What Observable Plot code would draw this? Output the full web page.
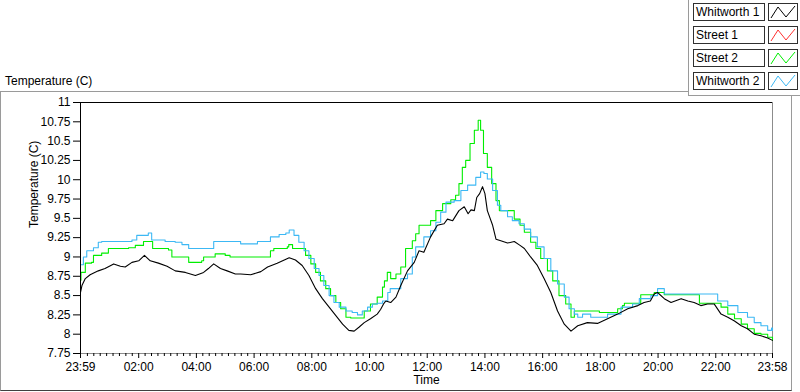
<!DOCTYPE html>
<html>
<head>
<meta charset="utf-8">
<script src="https://cdn.jsdelivr.net/npm/d3@7"></script>
<script src="https://cdn.jsdelivr.net/npm/@observablehq/plot@0.6"></script>
<style>
  html, body { margin: 0; padding: 0; background: #fff; }
  body { width: 800px; height: 392px; overflow: hidden; font-family: "Liberation Sans", Arial, sans-serif; }
  #wrap { position: relative; width: 800px; height: 392px; }
  #wrap svg { position: absolute; left: 0; top: 0; }
  .frame { position: absolute; left: 0; top: 91px; width: 790px; height: 298px;
           border-left: 1px solid #9a9a9a; border-top: 1px solid #9a9a9a;
           border-right: 1px solid #9a9a9a; border-bottom: 1px solid #404040; }
  .title { position: absolute; left: 5px; top: 74px; font-size: 12px; color: #000; }
  .legend { position: absolute; left: 688px; top: 0; width: 112px; height: 95px; background: #fff;
            border-left: 1px solid #9a9a9a; border-bottom: 1px solid #9a9a9a; }
  .lbl { position: absolute; left: 4px; width: 68px; height: 16px; border: 1px solid #303030;
         font-size: 12px; line-height: 16px; padding-left: 2px; color: #000; background: #fff; }
  .sw { position: absolute; left: 79px; width: 28px; height: 16px; border: 1px solid #303030; background: #fff; }
</style>
</head>
<body>
<div id="wrap">
  <div class="frame"></div>
  <div class="title">Temperature (C)</div>
</div>
<script>
// ---- data (clock time, °C) ----
const seriesNames = ["Whitworth 1", "Street 1", "Street 2", "Whitworth 2"];
const seriesColors = ["#000000", "#ff3030", "#00ee00", "#3cb8f4"];

const whitworth1 = [
  ["23:59",8.54],["00:02",8.63],["00:09",8.72],["00:19",8.77],["00:36",8.82],["00:50",8.85],
  ["01:08",8.91],["01:22",8.88],["01:32",8.87],["01:46",8.93],["02:00",8.95],["02:12",9.02],
  ["02:24",8.95],["02:41",8.92],["02:59",8.88],["03:16",8.82],["03:37",8.80],["03:58",8.76],
  ["04:15",8.80],["04:25",8.85],["04:36",8.91],["04:50",8.85],["05:04",8.82],["05:21",8.78],
  ["05:32",8.78],["05:53",8.77],["06:14",8.81],["06:28",8.87],["06:48",8.92],["07:13",8.99],
  ["07:26",8.96],["07:40",8.89],["07:54",8.76],["08:08",8.59],["08:22",8.46],["08:36",8.35],
  ["08:50",8.24],["09:04",8.13],["09:17",8.05],["09:28",8.04],["09:38",8.09],["09:49",8.15],
  ["10:02",8.20],["10:16",8.26],["10:23",8.32],["10:30",8.40],["10:34",8.43],["10:44",8.41],
  ["10:55",8.48],["11:05",8.63],["11:19",8.82],["11:33",8.93],["11:43",9.08],["11:53",9.06],
  ["12:07",9.26],["12:21",9.41],["12:35",9.43],["12:42",9.49],["12:53",9.47],["13:06",9.60],
  ["13:17",9.65],["13:25",9.56],["13:31",9.61],["13:38",9.60],["13:43",9.77],["13:49",9.82],
  ["13:55",9.91],["14:00",9.82],["14:05",9.60],["14:16",9.41],["14:23",9.23],["14:33",9.21],
  ["14:47",9.18],["15:01",9.20],["15:13",9.15],["15:22",9.11],["15:35",9.00],["15:49",8.89],
  ["16:03",8.72],["16:17",8.54],["16:31",8.30],["16:45",8.13],["16:59",8.04],["17:13",8.11],
  ["17:33",8.15],["17:54",8.14],["18:15",8.20],["18:36",8.26],["18:57",8.33],["19:18",8.37],
  ["19:31",8.41],["19:44",8.43],["19:52",8.52],["19:59",8.54],["20:13",8.46],["20:27",8.41],
  ["20:48",8.46],["21:02",8.43],["21:15",8.41],["21:29",8.37],["21:43",8.39],["21:57",8.39],
  ["22:11",8.26],["22:25",8.22],["22:39",8.17],["22:53",8.11],["23:06",8.07],["23:20",8.00],
  ["23:34",7.98],["23:48",7.95],["23:58",7.92]
];

const street1 = [];

const street2 = [
  ["23:59",8.70],["00:00",8.80],["00:09",8.92],["00:22",8.93],["00:26",9.02],["00:43",9.05],
  ["00:57",9.11],["01:39",9.12],["01:53",9.15],["02:10",9.20],["02:29",9.11],["03:02",9.09],
  ["03:09",9.00],["03:44",8.93],["04:11",8.95],["04:15",9.00],["04:39",9.04],["05:00",9.02],
  ["05:10",9.00],["06:34",9.08],["06:41",9.11],["07:09",9.13],["07:12",9.16],["07:20",9.11],
  ["07:47",9.02],["07:58",8.91],["08:08",8.80],["08:18",8.69],["08:29",8.59],["08:39",8.50],
  ["08:50",8.41],["09:00",8.33],["09:11",8.22],["09:21",8.21],["09:49",8.30],["10:02",8.39],
  ["10:16",8.48],["10:27",8.61],["10:31",8.69],["10:37",8.80],["10:44",8.72],["10:55",8.78],
  ["11:05",8.87],["11:15",9.11],["11:29",9.21],["11:36",9.30],["11:43",9.41],["12:07",9.47],
  ["12:18",9.60],["12:32",9.69],["12:49",9.74],["12:59",9.80],["13:06",9.95],["13:13",10.16],
  ["13:20",10.25],["13:29",10.47],["13:38",10.64],["13:46",10.77],["13:51",10.64],["13:57",10.34],
  ["14:05",10.16],["14:14",9.95],["14:23",9.73],["14:30",9.60],["15:01",9.49],["15:13",9.41],
  ["15:22",9.32],["15:35",9.19],["15:46",9.11],["15:56",8.98],["16:10",8.82],["16:21",8.69],
  ["16:34",8.50],["16:48",8.39],["16:59",8.22],["17:06",8.30],["17:58",8.28],["18:36",8.33],
  ["18:46",8.37],["18:50",8.40],["19:24",8.51],["19:52",8.54],["20:13",8.51],["21:26",8.40],
  ["22:11",8.35],["22:25",8.26],["22:39",8.20],["22:53",8.13],["23:06",8.07],["23:20",8.01],
  ["23:34",8.00],["23:48",7.96],["23:58",7.92]
];

const whitworth2 = [
  ["23:59",8.90],["00:05",9.00],["00:12",9.08],["00:26",9.12],["00:36",9.19],["00:43",9.20],
  ["01:46",9.22],["01:56",9.28],["02:20",9.31],["02:27",9.22],["02:55",9.20],["03:16",9.19],
  ["03:30",9.16],["03:44",9.11],["04:36",9.20],["05:32",9.17],["06:07",9.20],["06:34",9.26],
  ["06:52",9.29],["07:06",9.31],["07:13",9.35],["07:23",9.28],["07:33",9.19],["07:44",9.08],
  ["07:54",8.98],["08:05",8.85],["08:15",8.76],["08:25",8.63],["08:36",8.50],["08:46",8.41],
  ["08:57",8.35],["09:11",8.30],["09:24",8.28],["09:35",8.25],["09:45",8.30],["09:56",8.35],
  ["10:06",8.39],["10:16",8.40],["10:27",8.43],["10:38",8.54],["10:43",8.59],["11:05",8.72],
  ["11:19",8.78],["11:29",9.00],["11:36",9.13],["11:53",9.26],["12:07",9.34],["12:18",9.45],
  ["12:28",9.58],["12:39",9.71],["12:56",9.73],["13:10",9.86],["13:24",9.93],["13:41",10.03],
  ["13:51",10.10],["13:58",10.08],["14:05",10.01],["14:16",9.86],["14:26",9.67],["14:33",9.60],
  ["14:47",9.52],["14:57",9.47],["15:11",9.43],["15:22",9.36],["15:35",9.26],["15:49",9.13],
  ["16:03",8.98],["16:17",8.82],["16:31",8.65],["16:45",8.48],["16:55",8.33],["17:06",8.26],
  ["17:13",8.22],["17:23",8.26],["17:40",8.22],["18:15",8.26],["18:43",8.35],["19:07",8.39],
  ["19:21",8.46],["19:45",8.50],["19:59",8.59],["20:13",8.52],["22:04",8.43],["22:25",8.37],
  ["22:46",8.28],["23:06",8.22],["23:20",8.15],["23:34",8.11],["23:48",8.05],["23:56",8.08],
  ["23:58",8.05]
];

const xTickLabels = ["23:59","02:00","04:00","06:00","08:00","10:00","12:00","14:00","16:00","18:00","20:00","22:00","23:58"];
const yTicks = [7.75,8,8.25,8.5,8.75,9,9.25,9.5,9.75,10,10.25,10.5,10.75,11];
const yLabel = "Temperature (C)";
const xLabel = "Time";

// ---- build ----
// the first "23:59" belongs to the previous day
function parseTime(s, i) {
  const [h, m] = s.split(":").map(Number);
  const day = (i === 0 && s === "23:59") ? 1 : 2;
  return new Date(Date.UTC(2000, 0, day, h, m));
}
const toRows = arr => arr.map(([t, v], i) => ({t: parseTime(t, i), v}));
const rows = [whitworth1, street1, street2, whitworth2].map(toRows);

const majorDates = xTickLabels.map(parseTime);
const start = majorDates[0], end = majorDates[majorDates.length - 1];
const stepMs = 120 / 9 * 60000;
const minorDates = [];
for (let k = -20; k < 120; k++) {
  const d = new Date(+majorDates[1] + k * stepMs);
  if (d < start || d > end) continue;
  if (majorDates.some(m => Math.abs(m - d) < 90000)) continue;
  minorDates.push(d);
}

const lineStyle = (color, curve) => ({x: "t", y: "v", stroke: color, strokeWidth: 1.1, curve});

const chart = Plot.plot({
  width: 800,
  height: 392,
  marginLeft: 80,
  marginRight: 28,
  marginTop: 102,
  marginBottom: 39,
  style: {fontFamily: "'Liberation Sans', Arial, sans-serif", fontSize: "12px", background: "transparent", color: "#000", overflow: "visible"},
  x: {type: "utc", domain: [start, end]},
  y: {domain: [7.75, 11]},
  marks: [
    Plot.frame({stroke: "#8c8c8c"}),
    Plot.line(rows[2], lineStyle(seriesColors[2], "step-after")),
    Plot.line(rows[3], lineStyle(seriesColors[3], "step-after")),
    Plot.line(rows[1], lineStyle(seriesColors[1], "linear")),
    Plot.line(rows[0], lineStyle(seriesColors[0], "linear")),
    Plot.ruleY([11], {stroke: "#000"}),
    Plot.ruleX([start], {stroke: "#000"}),
    Plot.axisY({ticks: yTicks, tickSize: 7, tickPadding: 3, tickFormat: d => String(d), label: null, fill: "#000"}),
    Plot.axisX({ticks: majorDates, tickSize: 5, tickPadding: 4, tickFormat: (d, i) => xTickLabels[i], label: null, fill: "#000"}),
    Plot.axisX({ticks: minorDates, tickSize: 3, tickFormat: () => "", label: null}),
    Plot.text([yLabel], {frameAnchor: "left", rotate: -90, dx: -46, text: d => d, fill: "#000"}),
    Plot.text([xLabel], {frameAnchor: "bottom", dy: 30, text: d => d, fill: "#000"})
  ]
});
document.getElementById("wrap").appendChild(chart);

// legend panel
const legend = document.createElement("div");
legend.className = "legend";
seriesNames.forEach((name, i) => {
  const top = 3 + i * 23;
  const lbl = document.createElement("div");
  lbl.className = "lbl";
  lbl.style.top = top + "px";
  lbl.textContent = name;
  legend.appendChild(lbl);
  const sw = document.createElement("div");
  sw.className = "sw";
  sw.style.top = top + "px";
  sw.innerHTML = `<svg width="28" height="16"><polyline points="2,14 9,3 17,13 26,2" fill="none" stroke="${seriesColors[i]}" stroke-width="1"/></svg>`;
  legend.appendChild(sw);
});
document.getElementById("wrap").appendChild(legend);
</script>
</body>
</html>
